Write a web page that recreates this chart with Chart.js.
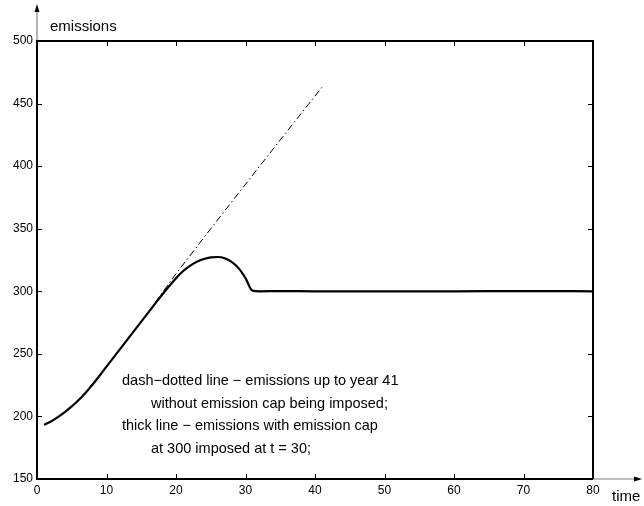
<!DOCTYPE html>
<html>
<head>
<meta charset="utf-8">
<script src="https://cdn.jsdelivr.net/npm/chart.js@4"></script>
<style>
  html, body { margin: 0; padding: 0; background: #fff; }
  #wrap { width: 644px; height: 506px; }
</style>
</head>
<body>
<div id="wrap"><canvas id="myChart" width="644" height="506"></canvas></div>
<script>
// thick line: emissions with cap imposed at t = 30
var capYears = [1, 2, 3, 4, 5, 6, 7, 8, 9, 10, 11, 12, 13, 14, 15, 16, 17, 18, 19, 20,
                21, 22, 23, 24, 25, 26, 27, 28, 29, 30, 31, 32, 35, 40, 50, 60, 70, 80];
var capValues = [193.3, 196, 199.5, 203.5, 208, 213.2, 219, 225.5, 232.5, 239.8, 247, 254.2, 261.4, 268.6, 275.8, 283, 290.1, 297.2, 304, 310.5,
                 316, 320.3, 323.6, 325.8, 327.1, 327.4, 326.4, 323.5, 318.5, 310.5, 300.5, 300, 300.2, 300, 300, 300, 300.2, 300];

// dash-dotted line: emissions without cap, up to year 41
var freeYears = [17, 20, 25, 30, 35, 41];
var freeValues = [291, 314, 350, 385.5, 421, 463];

var xTicks = [0, 10, 20, 30, 40, 50, 60, 70, 80];
var yTicks = [150, 200, 250, 300, 350, 400, 450, 500];

var noteLines = [
    "dash\u2212dotted line \u2212 emissions up to year 41",
    "     without emission cap being imposed;",
    "thick line \u2212 emissions with emission cap",
    "     at 300 imposed at t = 30;"
];

function toPoints(xs, ys) {
    return xs.map(function (x, i) { return { x: x, y: ys[i] }; });
}

var FONT = "Liberation Sans, Arial, Helvetica, sans-serif";

// box, inward ticks, arrows and texts
var framePlugin = {
    id: "frame",
    afterDraw: function (chart) {
        var ctx = chart.ctx;
        var a = chart.chartArea;
        var xs = chart.scales.x, ys = chart.scales.y;
        ctx.save();

        // arrows (grey shafts, black heads)
        ctx.strokeStyle = "#808080";
        ctx.lineWidth = 1.2;
        ctx.beginPath();
        ctx.moveTo(a.left, a.top);
        ctx.lineTo(a.left, 10);
        ctx.moveTo(a.right, a.bottom);
        ctx.lineTo(636, a.bottom);
        ctx.stroke();
        ctx.fillStyle = "#000";
        ctx.beginPath();
        ctx.moveTo(a.left, 4);
        ctx.lineTo(a.left - 2.5, 12);
        ctx.lineTo(a.left + 2.5, 12);
        ctx.closePath();
        ctx.fill();
        ctx.beginPath();
        ctx.moveTo(642, a.bottom);
        ctx.lineTo(634, a.bottom - 2.5);
        ctx.lineTo(634, a.bottom + 2.5);
        ctx.closePath();
        ctx.fill();

        // box
        ctx.strokeStyle = "#000";
        ctx.lineWidth = 2;
        ctx.beginPath();
        ctx.moveTo(a.left, a.top);
        ctx.lineTo(a.right, a.top);
        ctx.moveTo(a.left, a.top - 1);
        ctx.lineTo(a.left, a.bottom);
        ctx.lineTo(a.right, a.bottom);
        ctx.moveTo(a.right, a.top - 1);
        ctx.lineTo(a.right, a.bottom);
        ctx.stroke();

        // inward ticks
        ctx.lineWidth = 1;
        ctx.beginPath();
        xTicks.forEach(function (v) {
            var px = Math.round(xs.getPixelForValue(v)) + 0.5;
            ctx.moveTo(px, a.bottom); ctx.lineTo(px, a.bottom - 5);
            ctx.moveTo(px, a.top); ctx.lineTo(px, a.top + 5);
        });
        yTicks.forEach(function (v) {
            var py = Math.round(ys.getPixelForValue(v)) + 0.5;
            ctx.moveTo(a.left, py); ctx.lineTo(a.left + 5, py);
            ctx.moveTo(a.right, py); ctx.lineTo(a.right - 5, py);
        });
        ctx.stroke();

        // axis names
        ctx.fillStyle = "#000";
        ctx.font = "15px " + FONT;
        ctx.textBaseline = "middle";
        ctx.textAlign = "left";
        ctx.fillText("emissions", 50, 27);
        ctx.fillText("time", 612, 497);

        // note
        ctx.font = "14.5px " + FONT;
        noteLines.forEach(function (line, i) {
            ctx.fillText(line.replace(/^ +/, ""), line.charAt(0) === " " ? 151 : 122, 381 + i * 22.5);
        });
        ctx.restore();
    }
};

var ctx = document.getElementById("myChart").getContext("2d");
var chart = new Chart(ctx, {
    type: "line",
    data: {
        datasets: [
            {
                label: "without cap",
                data: toPoints(freeYears, freeValues),
                borderColor: "#000",
                borderWidth: 1,
                borderDash: [7, 3, 1.5, 3],
                pointRadius: 0,
                tension: 0,
                fill: false
            },
            {
                label: "with cap",
                data: toPoints(capYears, capValues),
                borderColor: "#000",
                borderWidth: 2.2,
                pointRadius: 0,
                cubicInterpolationMode: "monotone",
                fill: false
            }
        ]
    },
    options: {
        responsive: false,
        animation: false,
        layout: { padding: { left: 0, top: 41, right: 51, bottom: 0 } },
        plugins: { legend: { display: false }, tooltip: { enabled: false } },
        scales: {
            x: {
                type: "linear",
                min: 0, max: 80,
                afterFit: function (s) { s.height = 27; },
                afterBuildTicks: function (s) { s.ticks = xTicks.map(function (v) { return { value: v }; }); },
                grid: { display: false, drawTicks: false },
                border: { display: false },
                ticks: { color: "#000", padding: 4, maxRotation: 0, font: { family: FONT, size: 12 } }
            },
            y: {
                type: "linear",
                min: 150, max: 500,
                afterFit: function (s) { s.width = 37; },
                afterBuildTicks: function (s) { s.ticks = yTicks.map(function (v) { return { value: v }; }); },
                grid: { display: false, drawTicks: false },
                border: { display: false },
                ticks: { color: "#000", padding: 4, font: { family: FONT, size: 12 } }
            }
        }
    },
    plugins: [framePlugin]
});
</script>
</body>
</html>
